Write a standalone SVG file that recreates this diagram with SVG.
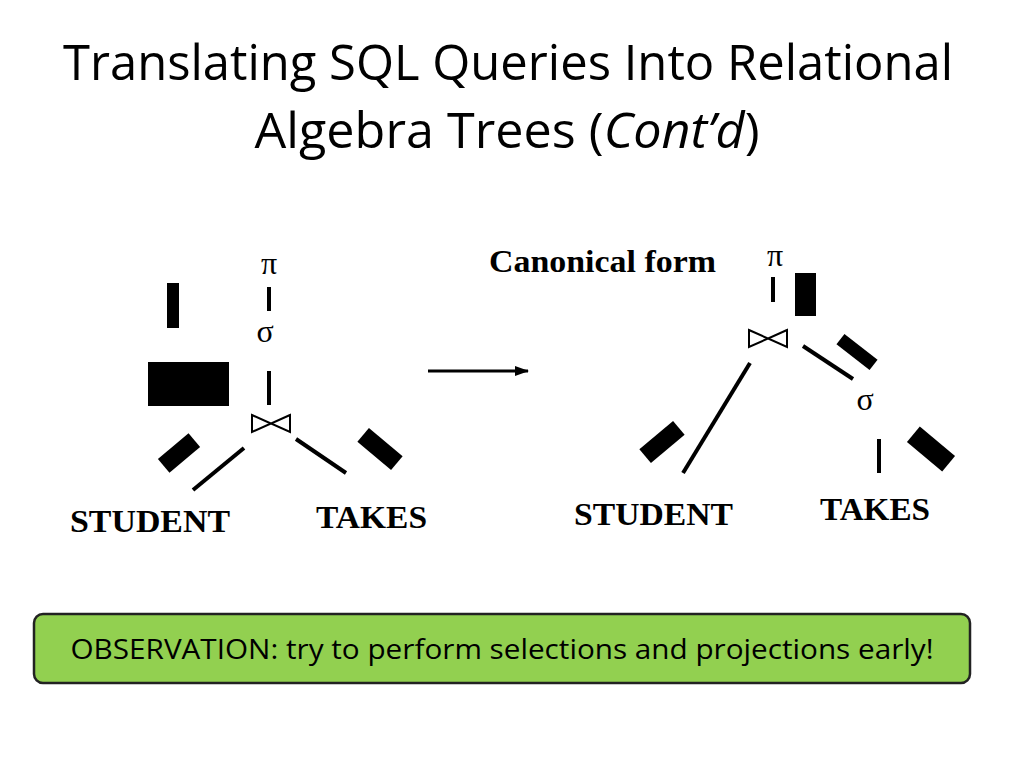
<svg xmlns="http://www.w3.org/2000/svg" width="1024" height="768" viewBox="0 0 1024 768">
<style>
.t{font-family:"Open Sans","Liberation Sans",sans-serif;font-size:50px;fill:#000}
.b{font-family:"Liberation Serif",serif;font-weight:bold;font-size:32px;fill:#000}
.s{font-family:"Liberation Serif",serif;font-size:32px;fill:#000}
.l{stroke:#000;stroke-width:4;fill:none}
.blk{fill:#000}
.j{fill:none;stroke:#000;stroke-width:2}
</style>
<defs>
<marker id="ah" markerWidth="14" markerHeight="12" refX="13" refY="6" orient="auto" markerUnits="userSpaceOnUse"><path d="M0,1 L14,6 L0,11 Z"/></marker>
<g id="bowtie"><path class="j" d="M1,1 L20,9.5 L1,18 Z M39,1 L20,9.5 L39,18 Z"/></g>
</defs>
<rect width="1024" height="768" fill="#fff"/>
<g id="title">
<text class="t" x="508" y="80" text-anchor="middle" textLength="890" lengthAdjust="spacingAndGlyphs">Translating SQL Queries Into Relational</text>
<text class="t" x="507" y="148" text-anchor="middle" textLength="505" lengthAdjust="spacingAndGlyphs">Algebra Trees (<tspan font-style="italic">Cont’d</tspan>)</text>
</g>
<g id="left-tree">
<rect class="blk" x="167" y="283" width="12" height="45"/>
<rect class="blk" x="148" y="362" width="81" height="44"/>
<text class="s" x="269" y="274" text-anchor="middle">π</text>
<text class="s" x="265" y="342" text-anchor="middle">σ</text>
<use href="#bowtie" x="251" y="414"/>
<rect class="blk" x="-20" y="-9" width="40" height="18" transform="translate(179,453) rotate(-40)"/>
<rect class="blk" x="-22" y="-9" width="44" height="18" transform="translate(380,449) rotate(40)"/>
<text class="b" x="70" y="532" textLength="160" lengthAdjust="spacingAndGlyphs">STUDENT</text>
<text class="b" x="316" y="528" textLength="111" lengthAdjust="spacingAndGlyphs">TAKES</text>
</g>
<g id="right-tree">
<text class="b" x="489" y="272" textLength="227" lengthAdjust="spacingAndGlyphs">Canonical form</text>
<text class="s" x="775" y="266" text-anchor="middle">π</text>
<rect class="blk" x="795" y="273" width="21" height="43"/>
<use href="#bowtie" x="748" y="329"/>
<rect class="blk" x="-21" y="-6.5" width="42" height="13" transform="translate(857,352) rotate(38)"/>
<text class="s" x="865" y="410" text-anchor="middle">σ</text>
<rect class="blk" x="-22" y="-9" width="44" height="18" transform="translate(662,442) rotate(-40)"/>
<rect class="blk" x="-23" y="-10" width="46" height="20" transform="translate(931,449) rotate(40)"/>
<text class="b" x="574" y="525" textLength="159" lengthAdjust="spacingAndGlyphs">STUDENT</text>
<text class="b" x="820" y="520" textLength="110" lengthAdjust="spacingAndGlyphs">TAKES</text>
</g>
<g id="connectors">
<line class="l" x1="269" y1="287" x2="269" y2="311"/>
<line class="l" x1="269" y1="371" x2="269" y2="405"/>
<line class="l" x1="193" y1="490" x2="244" y2="448"/>
<line class="l" x1="296" y1="439" x2="346" y2="473"/>
<line stroke="#000" stroke-width="3" x1="428" y1="371" x2="528" y2="371" marker-end="url(#ah)"/>
<line class="l" x1="773" y1="277" x2="773" y2="302"/>
<line class="l" x1="803" y1="346" x2="853" y2="379"/>
<line class="l" x1="750" y1="363" x2="683" y2="473"/>
<line class="l" x1="879" y1="439" x2="879" y2="473"/>
</g>
<g id="observation">
<rect x="34" y="614" width="936" height="69" rx="9" fill="#92d050" stroke="#222" stroke-width="2.5"/>
<text x="502" y="659" text-anchor="middle" font-family="Open Sans, Liberation Sans, sans-serif" font-size="27" textLength="863" lengthAdjust="spacingAndGlyphs">OBSERVATION: try to perform selections and projections early!</text>
</g>
</svg>
